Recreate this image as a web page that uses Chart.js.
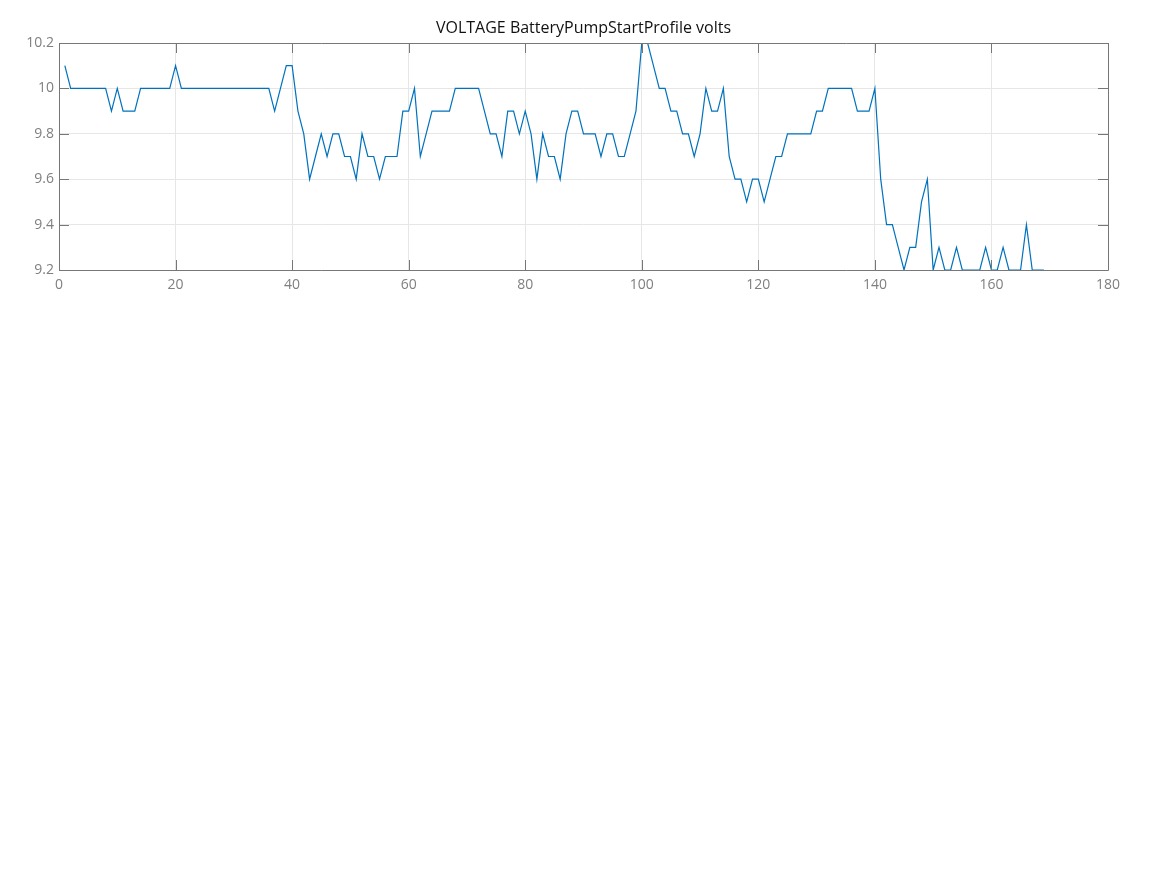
<!DOCTYPE html>
<html>
<head>
<meta charset="utf-8">
<script src="https://cdn.jsdelivr.net/npm/chart.js@4/dist/chart.umd.min.js"></script>
<style>
  html, body { margin: 0; padding: 0; background: #fff; }
  #wrap { width: 1167px; height: 875px; }
</style>
</head>
<body>
<div id="wrap"><canvas id="c" width="1167" height="875"></canvas></div>
<script>
const chartTitle = "VOLTAGE BatteryPumpStartProfile volts";
const voltage = [
  10.1, 10.0, 10.0, 10.0, 10.0, 10.0, 10.0, 10.0, 9.9, 10.0,
  9.9, 9.9, 9.9, 10.0, 10.0, 10.0, 10.0, 10.0, 10.0, 10.1,
  10.0, 10.0, 10.0, 10.0, 10.0, 10.0, 10.0, 10.0, 10.0, 10.0,
  10.0, 10.0, 10.0, 10.0, 10.0, 10.0, 9.9, 10.0, 10.1, 10.1,
  9.9, 9.8, 9.6, 9.7, 9.8, 9.7, 9.8, 9.8, 9.7, 9.7,
  9.6, 9.8, 9.7, 9.7, 9.6, 9.7, 9.7, 9.7, 9.9, 9.9,
  10.0, 9.7, 9.8, 9.9, 9.9, 9.9, 9.9, 10.0, 10.0, 10.0,
  10.0, 10.0, 9.9, 9.8, 9.8, 9.7, 9.9, 9.9, 9.8, 9.9,
  9.8, 9.6, 9.8, 9.7, 9.7, 9.6, 9.8, 9.9, 9.9, 9.8,
  9.8, 9.8, 9.7, 9.8, 9.8, 9.7, 9.7, 9.8, 9.9, 10.2,
  10.2, 10.1, 10.0, 10.0, 9.9, 9.9, 9.8, 9.8, 9.7, 9.8,
  10.0, 9.9, 9.9, 10.0, 9.7, 9.6, 9.6, 9.5, 9.6, 9.6,
  9.5, 9.6, 9.7, 9.7, 9.8, 9.8, 9.8, 9.8, 9.8, 9.9,
  9.9, 10.0, 10.0, 10.0, 10.0, 10.0, 9.9, 9.9, 9.9, 10.0,
  9.6, 9.4, 9.4, 9.3, 9.2, 9.3, 9.3, 9.5, 9.6, 9.2,
  9.3, 9.2, 9.2, 9.3, 9.2, 9.2, 9.2, 9.2, 9.3, 9.2,
  9.2, 9.3, 9.2, 9.2, 9.2, 9.4, 9.2, 9.2, 9.2
];
const sampleIndex = voltage.map((v, i) => i + 1);
const xTicks = [0, 20, 40, 60, 80, 100, 120, 140, 160, 180];
const yTicks = [9.2, 9.4, 9.6, 9.8, 10, 10.2];

const points = sampleIndex.map((x, i) => ({ x: x, y: voltage[i] }));

const frameColor = '#777777';
const framePlugin = {
  id: 'frame',
  afterDatasetsDraw(chart) {
    const { ctx, chartArea: a, scales } = chart;
    ctx.save();
    ctx.strokeStyle = frameColor;
    ctx.lineWidth = 1;
    ctx.beginPath();
    ctx.rect(Math.round(a.left) + 0.5, Math.round(a.top) + 0.5,
             Math.round(a.right - a.left), Math.round(a.bottom - a.top));
    ctx.stroke();
    const tl = 10;
    ctx.beginPath();
    xTicks.forEach(v => {
      const px = Math.round(scales.x.getPixelForValue(v)) + 0.5;
      ctx.moveTo(px, a.top); ctx.lineTo(px, a.top + tl);
      ctx.moveTo(px, a.bottom); ctx.lineTo(px, a.bottom - tl);
    });
    yTicks.forEach(v => {
      const py = Math.round(scales.y.getPixelForValue(v)) + 0.5;
      ctx.moveTo(a.left, py); ctx.lineTo(a.left + tl, py);
      ctx.moveTo(a.right, py); ctx.lineTo(a.right - tl, py);
    });
    ctx.stroke();
    ctx.restore();
  }
};

new Chart(document.getElementById('c'), {
  type: 'line',
  data: {
    datasets: [{
      data: points,
      borderColor: '#0072BD',
      borderWidth: 1.2,
      pointRadius: 0,
      tension: 0,
      fill: false
    }]
  },
  options: {
    responsive: false,
    animation: false,
    layout: { padding: { top: 7, left: 0, right: 59, bottom: 575 } },
    plugins: {
      legend: { display: false },
      tooltip: { enabled: false },
      title: {
        display: true,
        fullSize: false,
        text: chartTitle,
        color: '#111111',
        font: { family: 'Open Sans', size: 16, weight: 'normal' },
        padding: { top: 12, bottom: 4.8 }
      }
    },
    scales: {
      x: {
        type: 'linear',
        min: 0, max: 180,
        afterBuildTicks: s => { s.ticks = xTicks.map(v => ({ value: v })); },
        afterFit: s => { s.height = 30; },
        grid: { color: '#e6e6e6', drawTicks: false, lineWidth: 1 },
        border: { display: false },
        ticks: {
          color: '#7f7f7f',
          font: { family: 'Open Sans', size: 14 },
          padding: 7,
          maxRotation: 0,
          callback: v => String(v)
        }
      },
      y: {
        type: 'linear',
        min: 9.2, max: 10.2,
        afterBuildTicks: s => { s.ticks = yTicks.map(v => ({ value: v })); },
        afterFit: s => { s.width = 59; },
        grid: { color: '#e6e6e6', drawTicks: false, lineWidth: 1 },
        border: { display: false },
        ticks: {
          color: '#7f7f7f',
          font: { family: 'Open Sans', size: 14 },
          padding: 5,
          callback: v => (Math.round(v * 10) / 10).toString()
        }
      }
    }
  },
  plugins: [framePlugin]
});
</script>
</body>
</html>
